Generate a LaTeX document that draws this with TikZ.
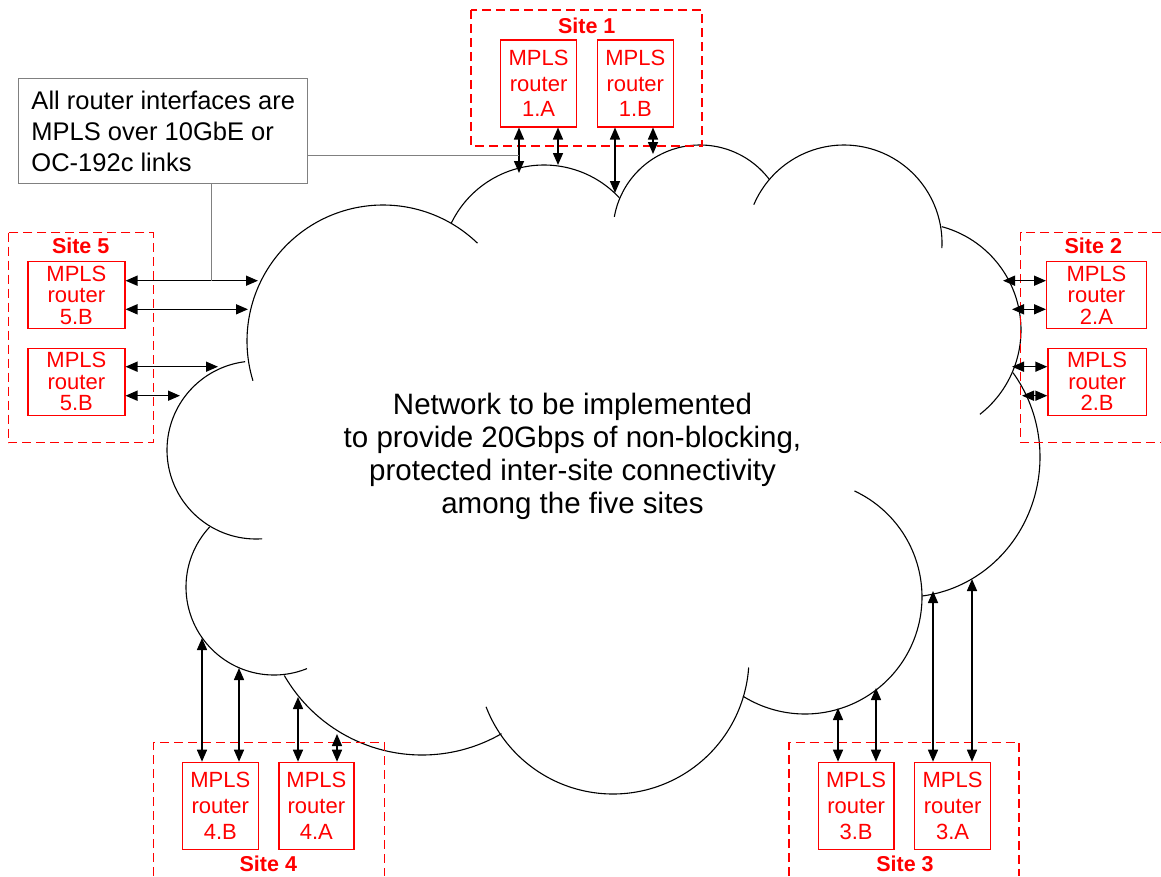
\documentclass[tikz,border=0pt]{standalone}
\usepackage{fontspec}
\setmainfont{Liberation Sans}
\usetikzlibrary{arrows.meta}

\definecolor{sitered}{RGB}{255,0,0}
\definecolor{notegray}{RGB}{128,128,128}

% one lobe of the cloud: centre (#1,#2), radii #3/#4, angles #5..#6
\newcommand\cloudlobe[6]{%
  \draw[cloudline] plot[domain=#5:#6, samples=70, smooth]
    ({#1+#3*cos(\x)},{#2+#4*sin(\x)});}

\tikzset{
  cloudline/.style={line width=1.1pt, black},
  router/.style={draw=sitered, text=sitered, line width=1.2pt, align=center,
    inner sep=0pt, anchor=north west},
  rtall/.style={router, minimum width=76pt, minimum height=87pt,
    font=\fontsize{22}{25.8}\selectfont},
  rwide/.style={router, minimum width=98pt, minimum height=67pt,
    font=\fontsize{22}{21.5}\selectfont},
  siteframe/.style={draw=sitered, color=sitered, line width=1.2pt,
    dash pattern=on 9pt off 5pt},
  sitelabel/.style={text=sitered, font=\fontsize{21.5}{25}\selectfont\bfseries,
    inner sep=0pt},
  link/.style={line width=1.5pt, black,
    arrows={Triangle[length=12pt,width=10pt]-Triangle[length=12pt,width=10pt]}},
  notebox/.style={draw=notegray, line width=1pt, anchor=north west,
    minimum width=289pt, minimum height=105pt, align=left,
    font=\fontsize{25.5}{31}\selectfont},
  noteline/.style={draw=notegray, line width=1pt},
}

\begin{document}
\begin{tikzpicture}[x=1pt, y=-1pt]
\useasboundingbox (0,0) rectangle (1161,876);

% ---- the network cloud ----
\cloudlobe{383}{341}{136}{136}{163}{314}
\cloudlobe{544}{268}{103}{103}{206}{317}
\cloudlobe{700}{232}{87}{87}{190}{323}
\cloudlobe{844}{243}{98}{98}{203}{363}
\cloudlobe{914}{330}{107}{107}{-75}{52}
\cloudlobe{906}{457}{134}{140}{-37}{83}
\cloudlobe{805}{597}{117}{117}{-65}{122}
\cloudlobe{613}{658}{136}{136}{4}{159}
\cloudlobe{422}{596}{159}{159}{60}{150}
\cloudlobe{274}{587}{88}{88}{68}{223}
\cloudlobe{256}{450}{89}{89}{86}{263}

\node[font=\fontsize{29.5}{33}\selectfont, align=center] (net) at (572.5,456)
  {Network to be implemented\\to provide 20Gbps of non-blocking,\\protected inter-site connectivity\\among the five sites};

% ---- site frames (those at the page edge run off it) ----
\draw[siteframe] (471,10) rectangle (702,146);
\draw[siteframe] (8.3,232.7) rectangle (153.3,442.7);
\draw[siteframe] (1161,232.7) -- (1020.7,232.7) -- (1020.7,442.7) -- (1161,442.7);
\draw[siteframe] (153.3,876) -- (153.3,742.7) -- (384.3,742.7) -- (384.3,876);
\draw[siteframe] (789,876) -- (789,742.7) -- (1019,742.7) -- (1019,876);

% ---- sites ----
\node[sitelabel] (s1lab) at (586.7,25.8) {Site 1};
\node[rtall] (r1a) at (500,39.3) {MPLS\\router\\1.A};
\node[rtall] (r1b) at (596.7,39.3) {MPLS\\router\\1.B};

\node[sitelabel] (s5lab) at (80.7,245.6) {Site 5};
\node[rwide, minimum width=97pt] (r5a) at (27.3,261) {MPLS\\router\\5.B};
\node[rwide, minimum width=97pt] (r5b) at (27.3,347.7) {MPLS\\router\\5.B};

\node[sitelabel] (s2lab) at (1093.3,245.6) {Site 2};
\node[rwide, minimum width=99.7pt] (r2a) at (1046,261) {MPLS\\router\\2.A};
\node[rwide, minimum width=98.4pt] (r2b) at (1047.3,347.7) {MPLS\\router\\2.B};

\node[sitelabel] (s4lab) at (268.3,864) {Site 4};
\node[rtall] (r4b) at (181.7,761.7) {MPLS\\router\\4.B};
\node[rtall, minimum width=75pt] (r4a) at (278.3,761.7) {MPLS\\router\\4.A};

\node[sitelabel] (s3lab) at (905,864) {Site 3};
\node[rtall, minimum width=75.6pt] (r3b) at (817.7,761.7) {MPLS\\router\\3.B};
\node[rtall] (r3a) at (914,761.7) {MPLS\\router\\3.A};

% ---- link end points on the cloud ----
\coordinate (c1a1) at (519,173);   \coordinate (c1a2) at (558,165);
\coordinate (c1b1) at (615,193);   \coordinate (c1b2) at (653,154);
\coordinate (c5a1) at (258,280.7); \coordinate (c5a2) at (248,309.3);
\coordinate (c5b1) at (218,366.7); \coordinate (c5b2) at (180,395.7);
\coordinate (c2a1) at (1003,280.7);\coordinate (c2a2) at (1012,309.3);
\coordinate (c2b1) at (1012,366.7);\coordinate (c2b2) at (1022,395.7);
\coordinate (c4b1) at (202,638);   \coordinate (c4b2) at (239,668);
\coordinate (c4a1) at (298,697);   \coordinate (c4a2) at (337,734);
\coordinate (c3b1) at (838,708);   \coordinate (c3b2) at (876,688);
\coordinate (c3a1) at (933,591);   \coordinate (c3a2) at (972,579);

% ---- links ----
\draw[link] (r1a.south -| c1a1) -- (c1a1);
\draw[link] (r1a.south -| c1a2) -- (c1a2);
\draw[link] (r1b.south -| c1b1) -- (c1b1);
\draw[link] (r1b.south -| c1b2) -- (c1b2);

\draw[link] (r5a.east |- c5a1) -- (c5a1);
\draw[link] (r5a.east |- c5a2) -- (c5a2);
\draw[link] (r5b.east |- c5b1) -- (c5b1);
\draw[link] (r5b.east |- c5b2) -- (c5b2);

\draw[link] (r2a.west |- c2a1) -- (c2a1);
\draw[link] (r2a.west |- c2a2) -- (c2a2);
\draw[link] (r2b.west |- c2b1) -- (c2b1);
\draw[link] (r2b.west |- c2b2) -- (c2b2);

\draw[link] (r4b.north -| c4b1) -- (c4b1);
\draw[link] (r4b.north -| c4b2) -- (c4b2);
\draw[link] (r4a.north -| c4a1) -- (c4a1);
\draw[link] (r4a.north -| c4a2) -- (c4a2);

\draw[link] (r3b.north -| c3b1) -- (c3b1);
\draw[link] (r3b.north -| c3b2) -- (c3b2);
\draw[link] (r3a.north -| c3a1) -- (c3a1);
\draw[link] (r3a.north -| c3a2) -- (c3a2);

% ---- annotation ----
\node[notebox] (note) at (18.3,78.3)
  {All router interfaces are\\MPLS over 10GbE or\\OC-192c links};
\coordinate (n1) at (519,155);
\coordinate (n2) at (211,280.7);
\draw[noteline] (note.east |- n1) -- (n1);
\draw[noteline] (note.south -| n2) -- (n2);
\end{tikzpicture}
\end{document}
